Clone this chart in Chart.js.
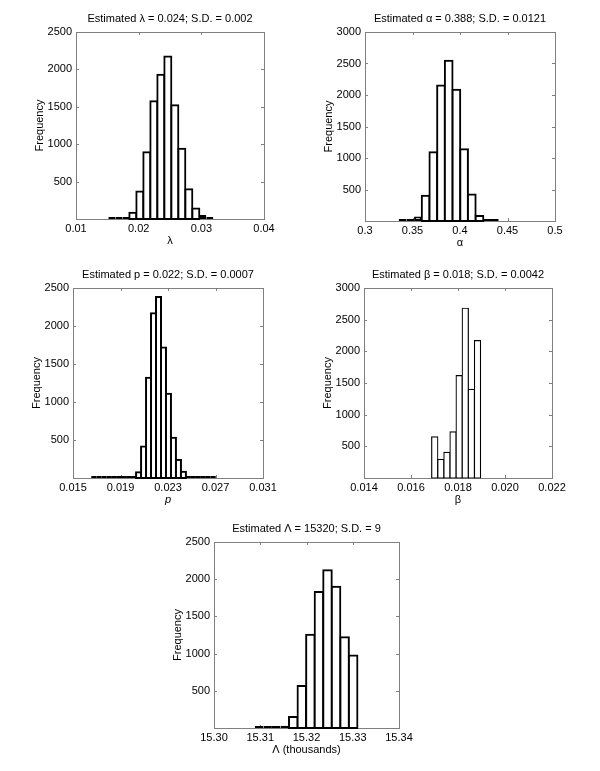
<!DOCTYPE html>
<html>
<head>
<meta charset="utf-8">
<script src="https://cdn.jsdelivr.net/npm/chart.js@4.4.1/dist/chart.umd.min.js"></script>
<style>
  body { margin: 0; background: #fff; }
  #page { position: relative; width: 600px; height: 771px; }
  #page canvas { position: absolute; }
</style>
</head>
<body>
<div id="page">
  <canvas id="histLambda" width="273" height="251" style="left:16px;top:0px"></canvas>
  <canvas id="histAlpha" width="275" height="253" style="left:305px;top:0px"></canvas>
  <canvas id="histP" width="275" height="254" style="left:13px;top:256px"></canvas>
  <canvas id="histBeta" width="273" height="254" style="left:304px;top:256px"></canvas>
  <canvas id="histBigLambda" width="270" height="250" style="left:154px;top:510px"></canvas>
</div>
<script>
// bin centres and counts
const lambdaBins = [0.015718, 0.016835, 0.017952, 0.019069, 0.020186, 0.021303, 0.022420, 0.023537,
                    0.024654, 0.025771, 0.026888, 0.028005, 0.029122, 0.030239, 0.031356];
const lambdaCounts = [3, 8, 21, 84, 367, 891, 1573, 1928, 2172, 1520, 939, 399, 141, 53, 12];

const alphaBins = [0.3395, 0.3476, 0.3557, 0.3638, 0.3719, 0.3800, 0.3881, 0.3962, 0.4043,
                   0.4124, 0.4205, 0.4286, 0.4367];
const alphaCounts = [6, 20, 70, 400, 1090, 2150, 2545, 2085, 1140, 420, 80, 20, 5];

const pBins = [0.01674, 0.01716, 0.01758, 0.01800, 0.01842, 0.01884, 0.01926, 0.01968, 0.02010,
               0.02052, 0.02094, 0.02136, 0.02178, 0.02220, 0.02262, 0.02304, 0.02346, 0.02388,
               0.02430, 0.02472, 0.02514, 0.02556, 0.02598, 0.02640, 0.02682];
const pCounts = [5, 2, 8, 3, 6, 4, 9, 12, 18, 75, 414, 1319, 2169, 2381, 1716, 1107, 529, 238,
                 83, 25, 10, 5, 4, 3, 2];

const betaBins = [0.01701, 0.01727, 0.01753, 0.01779, 0.01805, 0.01831, 0.01857, 0.01883];
const betaCounts = [650, 292, 405, 728, 1615, 2680, 1400, 2170];

const bigLambdaBins = [15.30975, 15.31160, 15.31345, 15.31530, 15.31714, 15.31899, 15.32084,
                       15.32269, 15.32454, 15.32639, 15.32824, 15.33009];
const bigLambdaCounts = [3, 4, 6, 31, 148, 565, 1254, 1828, 2120, 1900, 1220, 975];

// tick labels
const lambdaTicks = ['0.01', '0.02', '0.03', '0.04'];
const alphaTicks = ['0.3', '0.35', '0.4', '0.45', '0.5'];
const pTicks = ['0.015', '0.019', '0.023', '0.027', '0.031'];
const betaTicks = ['0.014', '0.016', '0.018', '0.020', '0.022'];
const bigLambdaTicks = ['15.30', '15.31', '15.32', '15.33', '15.34'];
const freqTicks2500 = [500, 1000, 1500, 2000, 2500];
const freqTicks3000 = [500, 1000, 1500, 2000, 2500, 3000];

Chart.defaults.font.family = '"Liberation Sans", Arial, sans-serif';
Chart.defaults.font.size = 11;
Chart.defaults.color = '#000';

// matlab style: grey box round the axes, short ticks pointing inwards
const matlabBox = {
    id: 'matlabBox',
    beforeDatasetsDraw(chart) {
        const ctx = chart.ctx, a = chart.chartArea;
        const x = chart.scales.x, y = chart.scales.y;
        ctx.save();
        ctx.strokeStyle = '#808080';
        ctx.lineWidth = 1;
        ctx.strokeRect(Math.round(a.left) + 0.5, Math.round(a.top) + 0.5,
                       Math.round(a.width), Math.round(a.height));
        ctx.beginPath();
        x.ticks.forEach(t => {
            const px = Math.round(x.getPixelForValue(t.value)) + 0.5;
            ctx.moveTo(px, a.bottom); ctx.lineTo(px, a.bottom - 3);
            ctx.moveTo(px, a.top); ctx.lineTo(px, a.top + 3);
        });
        y.ticks.forEach(t => {
            const py = Math.round(y.getPixelForValue(t.value)) + 0.5;
            ctx.moveTo(a.left, py); ctx.lineTo(a.left + 3, py);
            ctx.moveTo(a.right, py); ctx.lineTo(a.right - 3, py);
        });
        ctx.stroke();
        ctx.restore();
    }
};

function histogram(id, bins, counts, title, xTitle, xTicks, yTicks, lineW, italicX) {
    // bars only a few pixels tall are drawn as a solid black strip, like matlab does
    const barHeight = c => {
        const y = c.chart.scales.y;
        return y.getPixelForValue(0) - y.getPixelForValue(c.raw.y);
    };
    return new Chart(document.getElementById(id), {
        type: 'bar',
        data: {
            datasets: [{
                data: bins.map((b, i) => ({x: b, y: counts[i]})),
                backgroundColor: '#fff',
                borderColor: '#000',
                borderWidth: lineW,
                borderSkipped: false,
                // centre the outline on the bin edges so neighbours share one line
                inflateAmount: c => (barHeight(c) > 2 * lineW + 1 ? lineW / 2 : 0),
                minBarLength: 2,
                barPercentage: 1,
                categoryPercentage: 1,
                clip: false
            }]
        },
        options: {
            responsive: false,
            animation: false,
            events: [],
            layout: {padding: {left: 0, right: 25, top: 0, bottom: 0}},
            plugins: {
                legend: {display: false},
                tooltip: {enabled: false},
                title: {
                    display: true,
                    fullSize: false,
                    text: title,
                    font: {size: 11, weight: 'normal'},
                    padding: {top: 12, bottom: 6.8}
                }
            },
            scales: {
                x: {
                    type: 'linear',
                    offset: false,
                    min: parseFloat(xTicks[0]),
                    max: parseFloat(xTicks[xTicks.length - 1]),
                    grid: {display: false, drawTicks: false},
                    border: {display: false},
                    afterBuildTicks: s => { s.ticks = xTicks.map(v => ({value: parseFloat(v)})); },
                    afterFit: s => { s.height = 32; },
                    ticks: {
                        autoSkip: false,
                        maxRotation: 0,
                        padding: 3,
                        callback: (v, i) => xTicks[i]
                    },
                    title: {
                        display: true,
                        text: xTitle,
                        font: {size: 11, style: italicX ? 'italic' : 'normal'},
                        padding: {top: 0, bottom: 3.5}
                    }
                },
                y: {
                    min: 0,
                    max: yTicks[yTicks.length - 1],
                    grid: {display: false, drawTicks: false},
                    border: {display: false},
                    afterBuildTicks: s => { s.ticks = yTicks.map(v => ({value: v})); },
                    afterFit: s => { s.width = 60; },
                    ticks: {padding: 4, callback: v => String(v)},
                    title: {
                        display: true,
                        text: 'Frequency',
                        font: {size: 11},
                        padding: {top: 17.5, bottom: 0}
                    }
                }
            }
        },
        plugins: [matlabBox]
    });
}

histogram('histLambda', lambdaBins, lambdaCounts, 'Estimated λ = 0.024; S.D. = 0.002',
          'λ', lambdaTicks, freqTicks2500, 2, false);
histogram('histAlpha', alphaBins, alphaCounts, 'Estimated α = 0.388; S.D. = 0.0121',
          'α', alphaTicks, freqTicks3000, 2, false);
histogram('histP', pBins, pCounts, 'Estimated p = 0.022; S.D. = 0.0007',
          'p', pTicks, freqTicks2500, 2, true);
histogram('histBeta', betaBins, betaCounts, 'Estimated β = 0.018; S.D. = 0.0042',
          'β', betaTicks, freqTicks3000, 1.2, false);
histogram('histBigLambda', bigLambdaBins, bigLambdaCounts, 'Estimated Λ = 15320; S.D. = 9',
          'Λ (thousands)', bigLambdaTicks, freqTicks2500, 2, false);
</script>
</body>
</html>
